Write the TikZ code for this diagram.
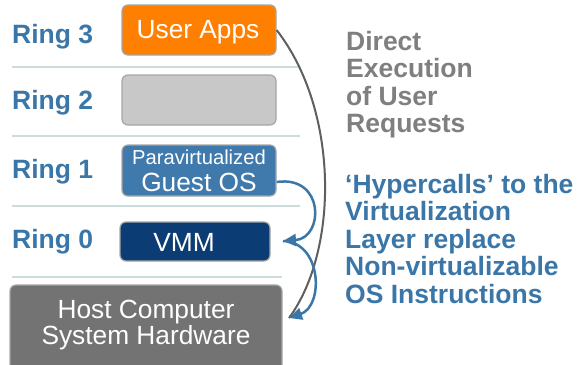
\documentclass[tikz,border=0pt]{standalone}
\usepackage{fontspec}
\setmainfont{Liberation Sans}
\usetikzlibrary{arrows.meta}

\definecolor{ringblue}{HTML}{3A77A8}
\definecolor{apporange}{HTML}{FF7F00}
\definecolor{emptygray}{HTML}{C8C8C8}
\definecolor{guestblue}{HTML}{4079AB}
\definecolor{vmmnavy}{HTML}{0B3D74}
\definecolor{hostgray}{HTML}{737373}
\definecolor{boxedge}{HTML}{A6A6A6}
\definecolor{sepgray}{HTML}{CBDCDC}
\definecolor{notegray}{HTML}{7F7F7F}
\definecolor{curvegray}{HTML}{5F5F5F}

\tikzset{
  ringlabel/.style={anchor=west, inner sep=0pt, text=ringblue,
    font=\fontsize{26.5}{27}\selectfont\bfseries},
  ringbox/.style={draw=boxedge, line width=1.2pt, rounded corners=6pt,
    inner sep=0pt, text=white},
  boxtext/.style={inner sep=0pt, text=white, align=center,
    font=\fontsize{26.3}{26.5}\selectfont},
  sepline/.style={draw=sepgray, line width=1.5pt},
  note/.style={anchor=north west, inner sep=0pt, align=left,
    font=\fontsize{26.5}{27.5}\selectfont\bfseries},
  hyper/.style={draw=ringblue, line width=2.5pt,
    -{Triangle[length=13pt,width=12pt]}},
}

\begin{document}
\begin{tikzpicture}[x=1pt,y=-1pt]
  \clip (0,0) rectangle (580,364);
  \fill[white] (0,0) rectangle (580,364);

  \draw[sepline] (12,67) -- (300,67);
  \draw[sepline] (12,136) -- (300,136);
  \draw[sepline] (12,206) -- (300,206);
  \draw[sepline] (12,277) -- (282,277);

  \node[ringlabel] (ring3) at (12,37) {Ring 3};
  \node[ringlabel] (ring2) at (12,103) {Ring 2};
  \node[ringlabel] (ring1) at (12,172) {Ring 1};
  \node[ringlabel] (ring0) at (12,242) {Ring 0};

  \node[ringbox, fill=apporange, minimum width=154pt, minimum height=50pt] (apps) at (199,30) {};
  \node[boxtext] (appstext) at (198,32.5) {User Apps};
  \node[ringbox, fill=emptygray, minimum width=154pt, minimum height=50pt] (empty) at (199,100) {};
  \node[ringbox, fill=guestblue, minimum width=154pt, minimum height=51pt] (guest) at (199,170.5) {};
  \node[boxtext, font=\fontsize{20.2}{20}\selectfont] (paratext) at (199,157) {Paravirtualized};
  \node[boxtext] (guesttext) at (199,182) {Guest OS};
  \node[ringbox, fill=vmmnavy, minimum width=150pt, minimum height=39pt] (vmm) at (195,241.5) {};
  \node[boxtext] (vmmtext) at (184,242) {VMM};
  \node[ringbox, fill=hostgray, minimum width=272pt, minimum height=87pt] (host) at (146,328.5) {};
  \node[boxtext, align=center] (hosttext) at (146,325) {Host Computer\\System Hardware};

  \coordinate (hit0) at (283,241);
  \coordinate (hit1) at (289,318);

  \draw[curvegray, line width=2pt] (apps.east) .. controls (339,110) and (339,250) .. (hit1);
  \draw[hyper] (guest.east |- guesttext) .. controls (325,175) and (324,238) .. (hit0);
  \draw[hyper] (hit0) .. controls (322,242) and (324,306) .. (hit1);

  \node[note, text=notegray] (direct) at (346,31) {Direct\\Execution\\of User\\Requests};
  \node[note, text=ringblue] (hypercall) at (345,174) {‘Hypercalls’ to the\\Virtualization\\Layer replace\\Non-virtualizable\\OS Instructions};
\end{tikzpicture}
\end{document}
